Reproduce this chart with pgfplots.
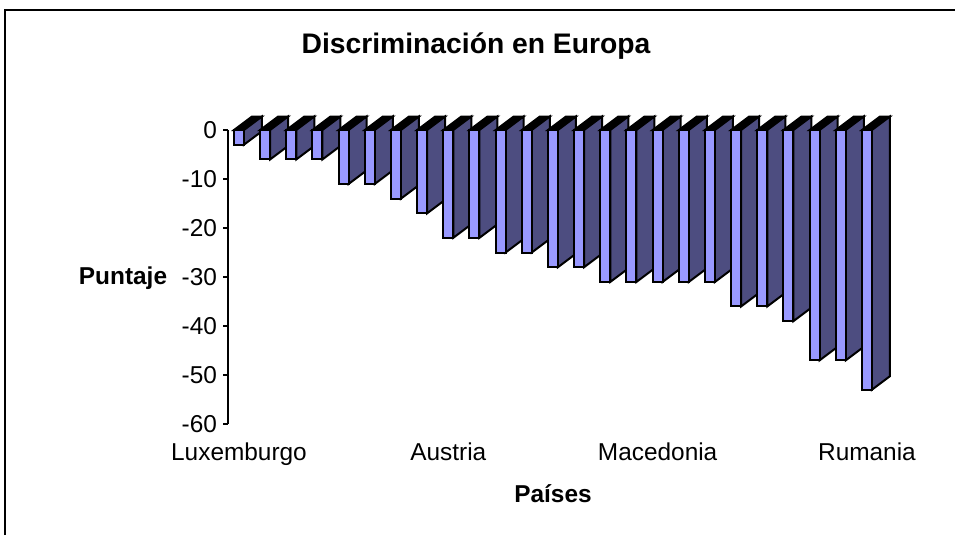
\documentclass[border=0pt]{standalone}
\usepackage{fontspec}
\setmainfont{Liberation Sans}
\usepackage{pgfplots}
\usepackage{pgfplotstable}
\pgfplotsset{compat=1.18}
\definecolor{barfront}{RGB}{153,153,255}
\definecolor{barside}{RGB}{77,77,128}

% values, one row per country
\pgfplotstableread{
x y
0 -3
1 -6
2 -6
3 -6
4 -11
5 -11
6 -14
7 -17
8 -22
9 -22
10 -25
11 -25
12 -28
13 -28
14 -31
15 -31
16 -31
17 -31
18 -31
19 -36
20 -36
21 -39
22 -47
23 -47
24 -53
}\datatable

\begin{document}
\begin{tikzpicture}[x=0.75pt,y=-0.75pt]
\path[use as bounding box] (0,0) rectangle (955,535);
\draw[line width=1pt] (5,535) -- (5,10) -- (955,10);
\node[font=\fontsize{21.2pt}{24pt}\selectfont\bfseries] at (476,46.5) {Discriminación en Europa};
\node[font=\fontsize{18.3pt}{22pt}\selectfont\bfseries] at (123,278) {Puntaje};
\node[font=\fontsize{18.3pt}{22pt}\selectfont\bfseries] at (553,494) {Países};
\coordinate (axisorigin) at (228,424);
\begin{axis}[
    at={(axisorigin)},
    anchor=south west,
    scale only axis,
    width=491pt,
    height=220.5pt,
    xmin=-0.42,
    xmax=24.6,
    ymin=-60,
    ymax=0,
    clip=false,
    axis lines*=left,
    x axis line style={draw=none},
    y axis line style={line width=0.9pt},
    xtick={0,8,16,24},
    xticklabels={Luxemburgo,Austria,Macedonia,Rumania},
    ytick={-60,-50,...,0},
    xtick style={draw=none},
    ytick style={black,line width=0.9pt},
    tick align=outside,
    major tick length=3.75pt,
    tick label style={font=\fontsize{18.3pt}{22pt}\selectfont},
    /pgf/number format/assume math mode=true,
    yticklabel style={xshift=-1pt},
    xticklabel style={yshift=-6.75pt},
]
% depth faces first, one bar at a time, so the next bar covers them
\pgfplotsinvokeforeach{0,...,24}{
    \pgfplotstablegetelem{#1}{y}\of\datatable
    \let\val\pgfplotsretval
    \edef\sidefaces{
        \noexpand\addplot[fill=black,draw=black,line width=1.5pt,forget plot] coordinates
            {(#1-0.19,0) (#1+0.19,0) (#1+0.877,2.75) (#1+0.497,2.75)} -- cycle;
        \noexpand\addplot[fill=barside,draw=black,line width=1.5pt,forget plot] coordinates
            {(#1+0.19,0) (#1+0.877,2.75) (#1+0.877,\val+2.75) (#1+0.19,\val)} -- cycle;
    }
    \sidefaces
}
\addplot[ybar,bar width=7.5pt,fill=barfront,draw=black,line width=1.5pt] table[x=x,y=y] {\datatable};
\end{axis}
\end{tikzpicture}
\end{document}
